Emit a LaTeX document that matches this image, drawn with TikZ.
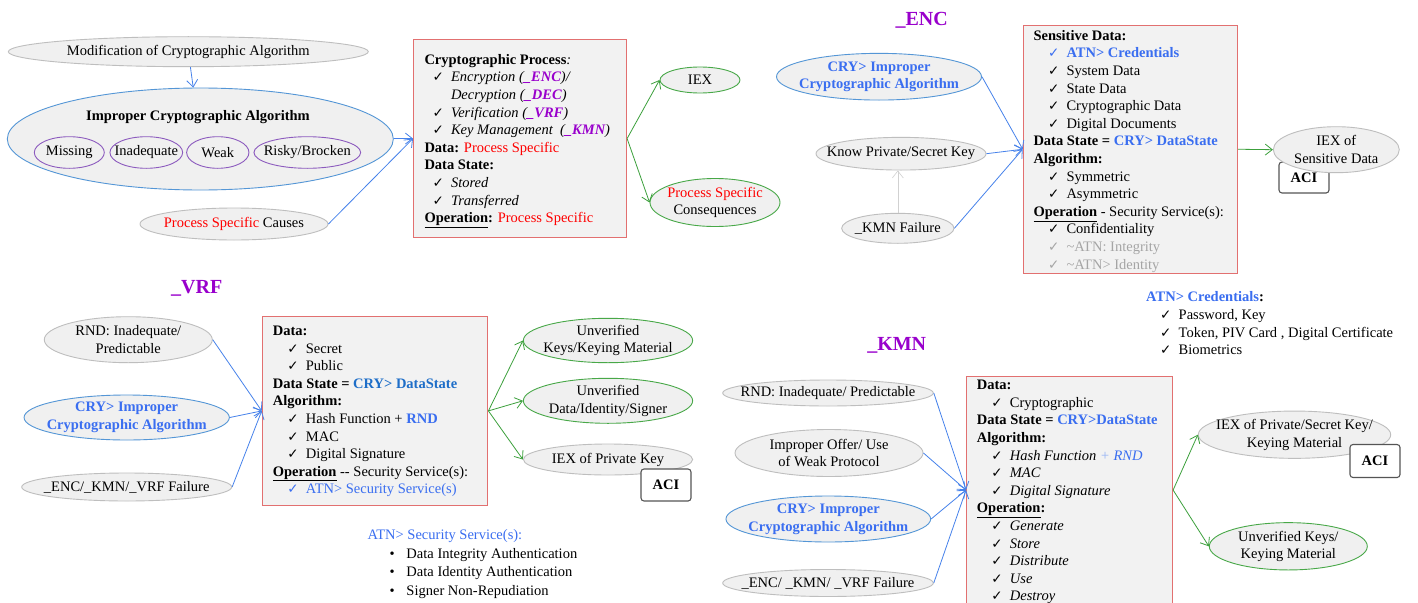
\documentclass[tikz,border=0pt]{standalone}
\usepackage{fontspec}
\setmainfont{Liberation Serif}
\newfontfamily\symfont{DejaVu Sans}
\usetikzlibrary{shapes.geometric,arrows.meta}

\definecolor{boxF}{RGB}{242,242,242}
\definecolor{boxB}{RGB}{226,112,112}
\definecolor{ellF}{RGB}{240,240,240}
\definecolor{grayB}{RGB}{190,190,190}
\definecolor{blueB}{RGB}{84,150,214}
\definecolor{greenB}{RGB}{72,168,72}
\definecolor{purpB}{RGB}{140,90,190}
\definecolor{arrB}{RGB}{70,130,235}
\definecolor{arrG}{RGB}{60,160,60}
\definecolor{blueT}{RGB}{58,110,240}
\definecolor{blueD}{RGB}{30,110,200}
\definecolor{blueL}{RGB}{150,180,245}
\definecolor{purT}{RGB}{153,0,204}
\definecolor{redT}{RGB}{255,0,0}
\definecolor{grayT}{RGB}{165,165,165}
\definecolor{aciB}{RGB}{85,85,85}

\newcommand\fs{\fontsize{14.5}{17.6}\selectfont}
\newcommand\chk{{\symfont\fontsize{13.5}{13.5}\selectfont ✓}}
% check-mark item: indent, mark column, text
\newcommand\ck[2]{\hspace*{#1}\makebox[18.5pt][l]{\chk}#2}
\newcommand\cki[1]{\ck{14.5pt}{#1}}
\newcommand\pur[1]{{\color{purT}\bfseries #1}}
\newcommand\rd[1]{{\color{redT}#1}}
% ellipse of fixed size with its text set on top:
% #1 style, #2 name, #3 x, #4 y, #5 width, #6 height, #7 text
\newcommand\enode[7]{%
  \node[#1, minimum width=#5pt, minimum height=#6pt] (#2) at (#3,#4) {};
  \node[etxt] (#2-t) at (#2) {#7};}

\begin{document}
\begin{tikzpicture}[x=1pt,y=-1pt,
  >={Straight Barb[length=7pt,width=11pt]},
  ell/.style={ellipse, draw=grayB, fill=ellF, line width=0.9pt, inner sep=0pt},
  etxt/.style={font=\fs, align=center, inner sep=0pt},
  boxr/.style={rectangle, draw=boxB, fill=boxF, line width=1.1pt, inner sep=0pt, anchor=north west},
  btxt/.style={font=\fs, align=left, inner sep=0pt, anchor=north west},
  barrow/.style={->, draw=arrB, line width=0.8pt},
  garrow/.style={->, draw=arrG, line width=0.8pt},
  aci/.style={draw=aciB, fill=white, rounded corners=3pt, line width=1.1pt,
    minimum width=50pt, inner sep=0pt, font=\fs\bfseries},
  ttl/.style={font=\fontsize{20}{24}\selectfont\bfseries, text=purT, inner sep=0pt}]
\useasboundingbox (0,0) rectangle (1418,602);
\clip (0,0) rectangle (1418,602);
\fill[white] (0,0) rectangle (1418,602);

% ================= generic cryptographic process =================
\enode{ell}{mod}{188.3}{51.7}{360}{30}{Modification of Cryptographic Algorithm}
\node[ell, draw=blueB, minimum width=386pt, minimum height=102pt] (ica) at (200.3,139) {};
\node[etxt, font=\fs\bfseries] (icaT) at (198,117.3) {Improper Cryptographic Algorithm};
\enode{ell, draw=purpB}{miss}{69.3}{152.5}{70}{31.6}{Missing}
\enode{ell, draw=purpB}{inad}{146.3}{152.5}{72.7}{31.6}{Inadequate}
\enode{ell, draw=purpB}{weak}{217.8}{152.5}{62.3}{31.6}{Weak}
\enode{ell, draw=purpB}{risky}{307.3}{152.5}{106.7}{31.6}{Risky/Brocken}
\enode{ell}{causes}{234}{224}{188}{32}{\rd{Process Specific} Causes}

\node[boxr, minimum width=213pt, minimum height=198pt] (cpbox) at (413,39) {};
\node[btxt] (cptxt) at (424.3,54) {%
  \textbf{Cryptographic Process}\textit{:}\\
  \ck{8pt}{\textit{Encryption (\pur{\_ENC})/}}\\
  \hspace*{26.5pt}\textit{Decryption (\pur{\_DEC})}\\
  \ck{8pt}{\textit{Verification (\pur{\_VRF})}}\\
  \ck{8pt}{\textit{Key Management \ (\pur{\_KMN})}}\\
  \textbf{Data:} \rd{Process Specific}\\
  \textbf{Data State:}\\
  \ck{8pt}{\textit{Stored}}\\
  \ck{8pt}{\textit{Transferred}}\\
  \underline{\textbf{Operation}}\textbf{:} \rd{Process Specific}};

\enode{ell, draw=greenB}{iex}{700}{80}{80}{26}{IEX}
\enode{ell, draw=greenB}{cons}{715}{202.5}{130}{48}{\rd{Process Specific}\\Consequences}

\draw[barrow] (mod) -- (ica);
\draw[barrow] (ica) -- (cpbox.west);
\draw[barrow] (causes.east) -- (cpbox.west);
\draw[garrow] (cpbox.east) -- (iex.west);
\draw[garrow] (cpbox.east) -- (cons.west);

% ================= _ENC =================
\node[ttl] (encT) at (921.7,20.7) {\_ENC};
\enode{ell, draw=blueB}{encC}{879}{76.7}{205}{46.7}{\textbf{\color{blueT}CRY> Improper}\\\textbf{\color{blueT}Cryptographic Algorithm}}
\enode{ell}{encK}{901}{153.7}{170}{32.7}{Know Private/Secret Key}
\enode{ell}{encF}{897.8}{228.3}{112.3}{30}{\_KMN Failure}

\node[boxr, minimum width=214.3pt, minimum height=248pt] (encbox) at (1022.7,24.7) {};
\node[btxt] (enctxt) at (1033.3,30) {%
  \textbf{Sensitive Data:}\\
  {\color{blueT}\cki{\textbf{ATN> Credentials}}}\\
  \cki{System Data}\\
  \cki{State Data}\\
  \cki{Cryptographic Data}\\
  \cki{Digital Documents}\\
  \textbf{Data State = {\color{blueT}CRY> DataState}}\\
  \textbf{Algorithm:}\\
  \cki{Symmetric}\\
  \cki{Asymmetric}\\
  \underline{\textbf{Operation}} - Security Service(s):\\
  \cki{Confidentiality}\\
  {\color{grayT}\cki{\textasciitilde ATN: Integrity}}\\
  {\color{grayT}\cki{\textasciitilde ATN> Identity}}};

\node[aci, minimum height=31pt] (encA) at (1304,177.5) {ACI};
\enode{ell}{encI}{1336.3}{149.7}{126}{46}{IEX of\\Sensitive Data}

\draw[barrow] (encC.east) -- (encbox.west);
\draw[barrow] (encK.east) -- (encbox.west);
\draw[barrow] (encF.east) -- (encbox.west);
\draw[->, draw=grayB!70, line width=0.6pt] (encF.north) -- (encF.north |- encK.south);
\draw[garrow] (encbox.east) -- (encI.west);

\node[btxt] (cred) at (1146,291.6) {%
  {\color{blueT}\bfseries ATN> Credentials}\textbf{:}\\
  \ck{14pt}{Password, Key}\\
  \ck{14pt}{Token, PIV Card , Digital Certificate}\\
  \ck{14pt}{Biometrics}};

% ================= _VRF =================
\node[ttl] (vrfT) at (196.7,288.3) {\_VRF};
\enode{ell}{vrfR}{128.3}{339.7}{168}{46}{RND: Inadequate/\\Predictable}
\enode{ell, draw=blueB}{vrfC}{126.7}{417.5}{205.3}{45}{\textbf{\color{blueT}CRY> Improper}\\\textbf{\color{blueT}Cryptographic Algorithm}}
\enode{ell}{vrfF}{126.7}{487}{210}{28}{\_ENC/\_KMN/\_VRF Failure}

\node[boxr, minimum width=225.6pt, minimum height=189.3pt] (vrfbox) at (261.7,315.7) {};
\node[btxt] (vrftxt) at (272.7,325.7) {%
  \textbf{Data:}\\
  \cki{Secret}\\
  \cki{Public}\\
  \textbf{Data State = {\color{blueD}CRY> DataState}}\\
  \textbf{Algorithm:}\\
  \cki{Hash Function + \textbf{\color{blueT}RND}}\\
  \cki{MAC}\\
  \cki{Digital Signature}\\
  \underline{\textbf{Operation}} -{}- Security Service(s):\\
  {\color{blueT}\cki{ATN> Security Service(s)}}};

\enode{ell, draw=greenB}{vrfU1}{608}{340.5}{169.3}{44.4}{Unverified\\Keys/Keying Material}
\enode{ell, draw=greenB}{vrfU2}{608}{400.8}{169.3}{45}{Unverified\\Data/Identity/Signer}
\enode{ell}{vrfI}{608}{459.5}{169.3}{31}{IEX of Private Key}
\node[aci, minimum height=32pt] (vrfA) at (666,485) {ACI};

\draw[barrow] (vrfR.east) -- (vrfbox.west);
\draw[barrow] (vrfC.east) -- (vrfbox.west);
\draw[barrow] (vrfF.east) -- (vrfbox.west);
\draw[garrow] (vrfbox.east) -- (vrfU1.west);
\draw[garrow] (vrfbox.east) -- (vrfU2.west);
\draw[garrow] (vrfbox.east) -- (vrfI.west);

\node[btxt, font=\fontsize{14.5}{18.6}\selectfont] (secsvc) at (367.3,529.2) {%
  {\color{blueT}ATN> Security Service(s):}\\
  \hspace*{22pt}\makebox[17pt][l]{•}Data Integrity Authentication\\
  \hspace*{22pt}\makebox[17pt][l]{•}Data Identity Authentication\\
  \hspace*{22pt}\makebox[17pt][l]{•}Signer Non-Repudiation};

% ================= _KMN =================
\node[ttl] (kmnT) at (896.7,345) {\_KMN};
\enode{ell}{kmnR}{828}{393}{210.6}{26}{RND: Inadequate/ Predictable}
\enode{ell}{kmnO}{829}{453}{188}{47}{Improper Offer/ Use\\of Weak Protocol}
\enode{ell, draw=blueB}{kmnC}{828.3}{519}{204.7}{46}{\textbf{\color{blueT}CRY> Improper}\\\textbf{\color{blueT}Cryptographic Algorithm}}
\enode{ell}{kmnF}{828}{583}{210.6}{27}{\_ENC/ \_KMN/ \_VRF Failure}

\node[boxr, minimum width=206pt, minimum height=227pt] (kmnbox) at (966,376) {};
\node[btxt] (kmntxt) at (976.7,380) {%
  \textbf{Data:}\\
  \cki{Cryptographic}\\
  \textbf{Data State = {\color{blueT}CRY>DataState}}\\
  \textbf{Algorithm:}\\
  \cki{\textit{Hash Function {\color{blueL}+} {\color{blueT}RND}}}\\
  \cki{\textit{MAC}}\\
  \cki{\textit{Digital Signature}}\\
  \underline{\textbf{Operation}}\textbf{:}\\
  \cki{\textit{Generate}}\\
  \cki{\textit{Store}}\\
  \cki{\textit{Distribute}}\\
  \cki{\textit{Use}}\\
  \cki{\textit{Destroy}}};

\enode{ell}{kmnI}{1294.5}{434.7}{192.4}{47.3}{IEX of Private/Secret Key/\\Keying Material}
\node[aci, minimum height=33pt] (kmnA) at (1375,461) {ACI};
\enode{ell, draw=greenB}{kmnU}{1288.3}{546.3}{158}{47.3}{Unverified Keys/\\Keying Material}

\draw[barrow] (kmnR.east) -- (kmnbox.west);
\draw[barrow] (kmnO.east) -- (kmnbox.west);
\draw[barrow] (kmnC.east) -- (kmnbox.west);
\draw[barrow] (kmnF.east) -- (kmnbox.west);
\draw[garrow] (kmnbox.east) -- (kmnI.west);
\draw[garrow] (kmnbox.east) -- (kmnU.west);
\end{tikzpicture}
\end{document}
